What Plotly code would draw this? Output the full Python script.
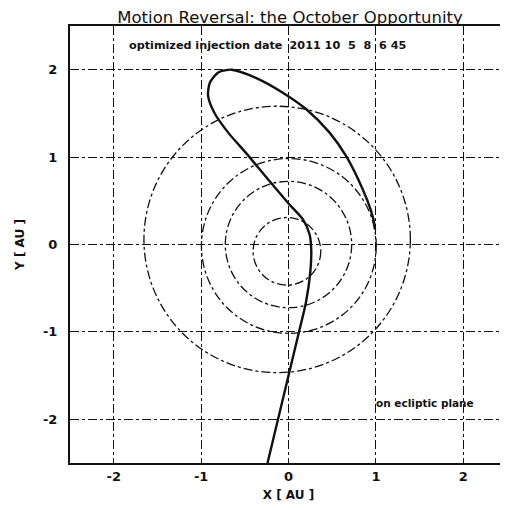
import plotly.graph_objects as go

# ── Data ──────────────────────────────────────────────
# trajectory in the ecliptic plane [AU]
traj_x = [-0.24, -0.12, 0.00, 0.12, 0.20, 0.25, 0.26, 0.24, 0.17, 0.00,
          -0.23, -0.48, -0.69, -0.85, -0.92, -0.90, -0.80, -0.65, -0.38, -0.07,
          0.20, 0.47, 0.66, 0.85, 0.94, 0.98, 0.99]
traj_y = [-2.50, -2.00, -1.50, -1.00, -0.66, -0.31, -0.05, 0.12, 0.28, 0.47,
          0.74, 1.04, 1.28, 1.51, 1.70, 1.85, 1.97, 2.00, 1.91, 1.74,
          1.55, 1.28, 1.01, 0.63, 0.40, 0.25, 0.17]

# planetary orbits: radius and centre offset [AU]
planets  = ["Mercury", "Venus", "Earth", "Mars"]
orbit_r  = [0.387, 0.723, 1.000, 1.524]
orbit_cx = [-0.018, 0.0, 0.004, -0.130]
orbit_cy = [-0.078, 0.0, -0.016, 0.058]

tick_vals = [-2, -1, 0, 1, 2]
tick_text = ["-2", "-1", "0", "1", "2"]

INK = "#111111"
FONT = "DejaVu Sans"

fig = go.Figure()

fig.add_trace(go.Scatter(
    x=traj_x, y=traj_y,
    mode="lines",
    line=dict(color=INK, width=2.4, shape="spline", smoothing=0.7),
    showlegend=False,
))

for name, r, cx, cy in zip(planets, orbit_r, orbit_cx, orbit_cy):
    fig.add_shape(
        type="circle", xref="x", yref="y",
        x0=cx - r, x1=cx + r, y0=cy - r, y1=cy + r,
        line=dict(color=INK, width=1.3, dash="dashdot"),
        name=name,
    )

axis_common = dict(
    range=[-2.5, 2.5],
    tickvals=tick_vals,
    ticktext=tick_text,
    showgrid=True,
    gridcolor=INK,
    gridwidth=1,
    griddash="dashdot",
    zeroline=False,
    showline=True,
    linecolor=INK,
    linewidth=2,
    mirror=True,
    ticks="",
    automargin=False,
    tickfont=dict(family=FONT, size=13, color=INK, weight="bold"),
)

# page body adds an 8px offset, so the figure is sized a bit smaller
fig.update_layout(
    width=500, height=502,
    margin=dict(l=62, r=1, t=18, b=47, autoexpand=False),
    paper_bgcolor="white",
    plot_bgcolor="white",
    font=dict(family=FONT, color=INK),
    title=dict(
        text="Motion Reversal: the October Opportunity",
        x=0.564, xanchor="center", y=0.994, yanchor="top",
        pad=dict(t=0),
        font=dict(family=FONT, size=16.5, color=INK),
    ),
    xaxis=dict(axis_common, ticklabelstandoff=0,
               title=dict(text="X [ AU ]", standoff=8,
                          font=dict(family=FONT, size=12, color=INK, weight="bold"))),
    yaxis=dict(axis_common, ticklabelstandoff=8,
               title=dict(text="Y [ AU ]", standoff=16,
                          font=dict(family=FONT, size=12, color=INK, weight="bold"))),
    showlegend=False,
)

fig.add_annotation(
    x=-1.85, y=2.28, xref="x", yref="y", xanchor="left", yanchor="middle",
    text="<b>optimized injection date</b>&nbsp;&nbsp;<b>2011 10&nbsp;&nbsp;5&nbsp;&nbsp;8&nbsp;&nbsp;6 45</b>",
    showarrow=False, font=dict(family=FONT, size=11.2, color=INK),
)
fig.add_annotation(
    x=0.98, y=-1.81, xref="x", yref="y", xanchor="left", yanchor="middle",
    text="<b>on ecliptic plane</b>",
    showarrow=False, font=dict(family=FONT, size=10.5, color=INK),
)

fig.write_html("out.html")
